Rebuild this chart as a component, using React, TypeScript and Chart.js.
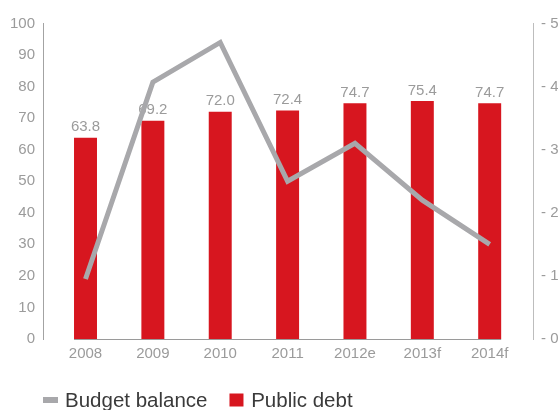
import React, { useEffect, useRef } from 'react';
import { Chart, registerables } from 'chart.js';

Chart.register(...registerables);

const years = ['2008', '2009', '2010', '2011', '2012e', '2013f', '2014f'];
const publicDebt = [63.8, 69.2, 72.0, 72.4, 74.7, 75.4, 74.7];
const budgetBalance = [0.95, 4.07, 4.7, 2.5, 3.1, 2.2, 1.5];
const debtAxis = { min: 0, max: 100, step: 10 };
const balanceAxis = { min: 0, max: 5, step: 1 };
const seriesNames = { balance: 'Budget balance', debt: 'Public debt' };

const FONT = '"Liberation Sans", Arial, Helvetica, sans-serif';
const RED = '#d7161f';
const GREY_LINE = '#a8a8ab';
const TICK_COLOR = '#9b9b9b';

const valueLabels = {
  id: 'valueLabels',
  afterDatasetDraw(chart: any, args: any) {
    const meta = chart.getDatasetMeta(args.index);
    if (meta.type !== 'bar') return;
    const ctx = chart.ctx;
    const ds = chart.data.datasets[args.index];
    ctx.save();
    ctx.font = `15px ${FONT}`;
    ctx.fillStyle = TICK_COLOR;
    ctx.textAlign = 'center';
    ctx.textBaseline = 'alphabetic';
    meta.data.forEach((el: any, i: number) => {
      const v = ds.data[i].y;
      ctx.fillText(v.toFixed(1), el.x, el.y - 6.5);
    });
    ctx.restore();
  },
};

const baseLine = {
  id: 'baseLine',
  beforeDatasetsDraw(chart: any) {
    const idx = chart.data.datasets.findIndex((d: any) => d.type === 'bar');
    const meta = chart.getDatasetMeta(idx);
    if (!meta.data.length) return;
    const first = meta.data[0];
    const last = meta.data[meta.data.length - 1];
    const ctx = chart.ctx;
    const y = Math.round(chart.chartArea.bottom) + 0.5;
    ctx.save();
    ctx.strokeStyle = '#9a9a9a';
    ctx.lineWidth = 1;
    ctx.beginPath();
    ctx.moveTo(first.x - first.width / 2, y);
    ctx.lineTo(last.x + last.width / 2, y);
    ctx.stroke();
    ctx.restore();
  },
};

const customLegend = {
  id: 'customLegend',
  afterDraw(chart: any) {
    const ctx = chart.ctx;
    const ds = chart.data.datasets;
    let x = chart.chartArea.left;
    const baseline = 407.3;
    ctx.save();
    ctx.font = `20.5px ${FONT}`;
    ctx.textBaseline = 'alphabetic';
    ctx.textAlign = 'left';
    ds.forEach((d: any) => {
      if (d.type === 'line') {
        ctx.fillStyle = d.borderColor;
        ctx.fillRect(x, 397, 15, 6);
        x += 15 + 7;
      } else {
        ctx.fillStyle = d.backgroundColor;
        ctx.fillRect(x, 393.5, 14, 13);
        x += 14 + 7.7;
      }
      ctx.fillStyle = '#3a3a3a';
      ctx.fillText(d.label, x, baseline);
      x += ctx.measureText(d.label).width + 22;
    });
    ctx.restore();
  },
};

export default function App() {
  const ref = useRef<HTMLCanvasElement | null>(null);

  useEffect(() => {
    const canvas = ref.current;
    if (!canvas) return;
    const chart = new Chart(canvas, {
      type: 'bar',
      data: {
        datasets: [
          {
            type: 'line',
            label: seriesNames.balance,
            data: budgetBalance.map((v, i) => ({ x: i, y: v })),
            yAxisID: 'y1',
            borderColor: GREY_LINE,
            backgroundColor: GREY_LINE,
            borderWidth: 5,
            pointRadius: 0,
            pointHoverRadius: 0,
            tension: 0,
            borderJoinStyle: 'miter',
            borderCapStyle: 'butt',
            order: 1,
          } as any,
          {
            type: 'bar',
            label: seriesNames.debt,
            data: publicDebt.map((v, i) => ({ x: i, y: v })),
            yAxisID: 'y',
            backgroundColor: RED,
            borderWidth: 0,
            barPercentage: 0.341,
            categoryPercentage: 1,
            order: 2,
          } as any,
        ],
      },
      options: {
        responsive: false,
        animation: false,
        devicePixelRatio: 1,
        layout: { padding: { top: 23.5, bottom: 40, left: 0, right: 0 } },
        plugins: {
          legend: { display: false },
          tooltip: { enabled: false },
        },
        scales: {
          x: {
            type: 'linear',
            offset: false,
            min: -0.631,
            max: 6.643,
            grid: { display: false, drawTicks: false, tickLength: 0, offset: false },
            border: { display: false },
            ticks: {
              stepSize: 1,
              includeBounds: false,
              autoSkip: false,
              maxRotation: 0,
              padding: 6,
              color: TICK_COLOR,
              font: { family: FONT, size: 15 },
              callback: (v: any) => years[v as number] ?? '',
            },
            afterFit: (s: any) => {
              s.height = 31;
            },
          },
          y: {
            position: 'left',
            min: debtAxis.min,
            max: debtAxis.max,
            grid: { display: false, drawTicks: false, tickLength: 0 },
            border: { display: true, color: '#a3a3a3', width: 1 },
            ticks: {
              stepSize: debtAxis.step,
              padding: 8,
              color: TICK_COLOR,
              font: { family: FONT, size: 15 },
            },
            afterFit: (s: any) => {
              s.width = 43;
            },
          },
          y1: {
            position: 'right',
            min: balanceAxis.min,
            max: balanceAxis.max,
            grid: { display: false, drawTicks: false, tickLength: 0 },
            border: { display: true, color: '#bdbdbd', width: 1 },
            ticks: {
              stepSize: balanceAxis.step,
              padding: 8,
              color: TICK_COLOR,
              font: { family: FONT, size: 15 },
              callback: (v: any) => '- ' + v,
            },
            afterFit: (s: any) => {
              s.width = 25;
            },
          },
        },
      } as any,
      plugins: [baseLine, valueLabels, customLegend],
    });
    return () => chart.destroy();
  }, []);

  return (
    <div style={{ position: 'fixed', left: 0, top: 0, width: 558, height: 410, background: '#fff' }}>
      <canvas ref={ref} width={558} height={410} style={{ width: 558, height: 410, display: 'block' }} />
    </div>
  );
}
